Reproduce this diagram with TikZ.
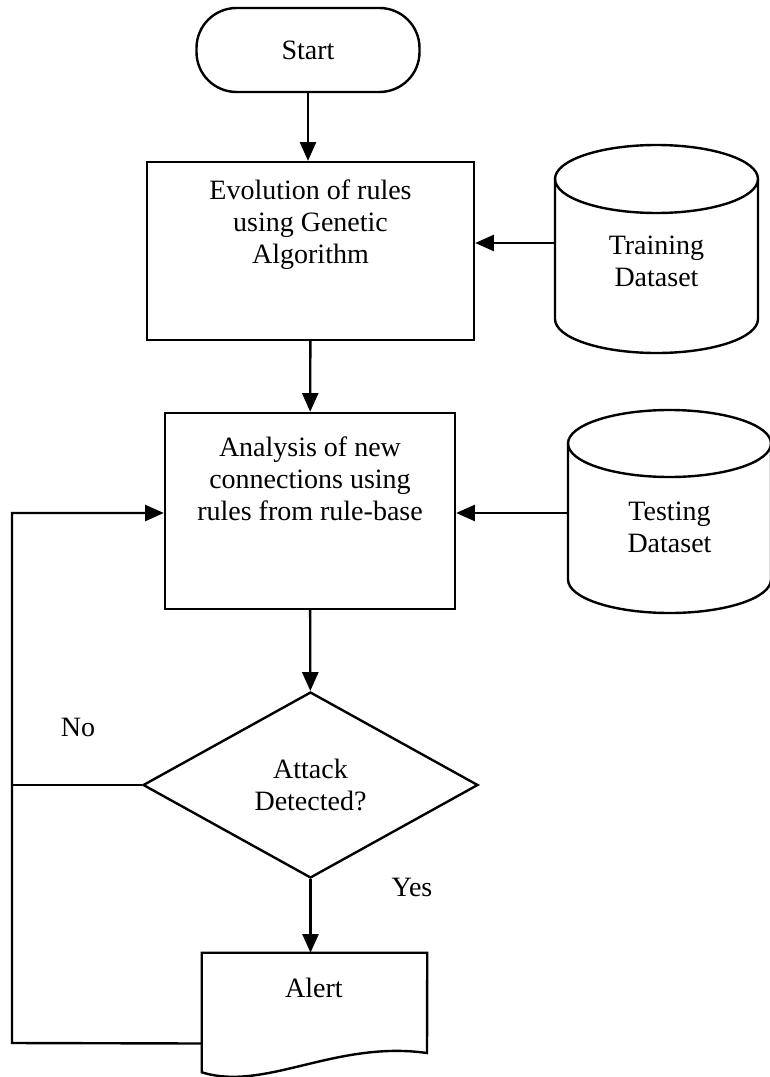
\documentclass[tikz,border=0pt]{standalone}
\usepackage{fontspec}
\setmainfont{Liberation Serif}
\usetikzlibrary{shapes.geometric, arrows.meta}

\tikzset{
  blok/.style={draw, line width=1.8pt, inner sep=0pt},
  pijl/.style={line width=1.8pt, -{Triangle[length=14pt, width=12pt]}},
  lijn/.style={line width=1.8pt},
}

\begin{document}
\begin{tikzpicture}[x=0.75pt, y=-0.75pt, every node/.style={font=\fontsize{21}{24}\selectfont, align=center}]
  \useasboundingbox (0,0) rectangle (769,1077);
  % start
  \node[blok, rounded corners=30pt, minimum width=167.25pt, minimum height=63pt] (start) at (308,50) {Start};
  % regels evolueren
  \node[blok, minimum width=245.25pt, minimum height=133.5pt] (evol) at (310.5,251) {};
  \node (evoltekst) at (310.5,225) {Evolution of rules\\using Genetic\\Algorithm};
  % analyse
  \node[blok, minimum width=217.5pt, minimum height=147pt] (analyse) at (310,511) {};
  \node (analysetekst) at (310,479) {Analysis of new\\connections using\\rules from rule-base};
  % beslissing
  \node[blok, diamond, aspect=1.8, minimum width=251.25pt, minimum height=139.5pt] (keuze) at (310.5,785) {Attack\\Detected?};
  % alert (document)
  \node[minimum width=168.75pt, minimum height=89.25pt, inner sep=0pt] (alert) at (314.5,1012.5) {};
  \draw[lijn] (alert.south west) -- (alert.north west) -- (alert.north east) -- (427,1053)
    .. controls (335,1040) and (265,1092) .. (alert.south west) -- cycle;
  \node (alerttekst) at (314,988) {Alert};
  % datasets (cilinders)
  \draw[lijn] (656.5,179) ellipse [x radius=101.5, y radius=34];
  \draw[lijn] (555,179) -- (555,319) arc[start angle=180, end angle=0, x radius=101.5, y radius=34] -- (758,179);
  \node (train) at (656.5,261.5) {Training\\Dataset};
  \draw[lijn] (669.5,443.5) ellipse [x radius=101.5, y radius=33.5];
  \draw[lijn] (568,443.5) -- (568,579.5) arc[start angle=180, end angle=0, x radius=101.5, y radius=33.5] -- (771,443.5);
  \node (test) at (669.5,527.5) {Testing\\Dataset};
  % labels
  \node (nee) at (78,727) {No};
  \node (ja) at (412,887) {Yes};
  % pijlen
  \coordinate (links) at (12,1043);
  \coordinate (traininvoer) at (555,243);
  \coordinate (testinvoer) at (568,513);
  \draw[pijl] (start.south) -- (start.south |- evol.north);
  \draw[pijl] (evol) -- (analyse);
  \draw[pijl] (analyse) -- (keuze);
  \draw[pijl] (keuze.south) -- (keuze.south |- alert.north);
  \draw[pijl] (traininvoer) -- (evol.east |- traininvoer);
  \draw[pijl] (testinvoer) -- (analyse.east |- testinvoer);
  \draw[pijl] ([yshift=-23.25pt]alert.west) -- (links) |- (analyse.west |- testinvoer);
  \draw[lijn] (keuze.west) -- (keuze.west -| links);
\end{tikzpicture}
\end{document}
